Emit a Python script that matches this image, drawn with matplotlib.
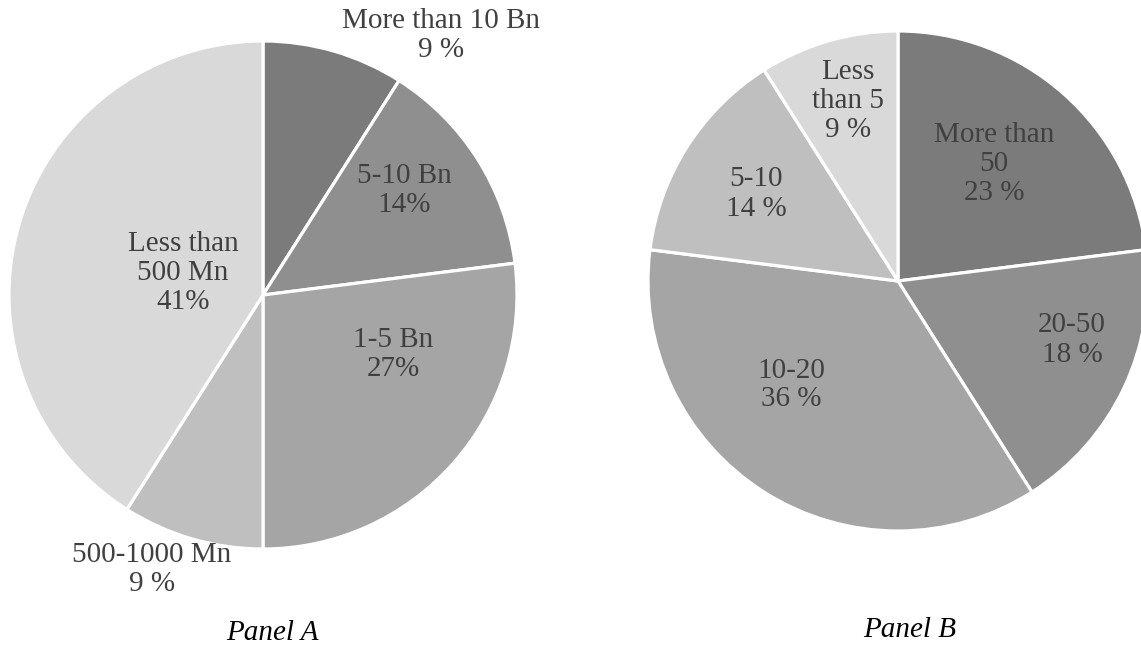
import numpy as np
import matplotlib.pyplot as plt

plt.rcParams['font.family'] = ['Liberation Serif', 'DejaVu Serif']

# Panel A: size classes, clockwise from the top
cats_a = ['More than 10 Bn', '5-10 Bn', '1-5 Bn', '500-1000 Mn', 'Less than\n500 Mn']
vals_a = [9, 14, 27, 9, 41]
sep_a = [' ', '', '', ' ', '']

# Panel B
cats_b = ['More than\n50', '20-50', '10-20', '5-10', 'Less\nthan 5']
vals_b = [23, 18, 36, 14, 9]
sep_b = [' ', ' ', ' ', ' ', ' ']

greys = ['#7b7b7b', '#8f8f8f', '#a5a5a5', '#bfbfbf', '#d9d9d9']
txt_col = '#404040'

# label spots in pie-radius units
pos_a = [(0.70, 1.02), (0.555, 0.413), (0.512, -0.236), (-0.437, -1.079), (-0.315, 0.087)]
pos_b = [(0.384, 0.468), (0.696, -0.236), (-0.428, -0.416), (-0.568, 0.348), (-0.2, 0.72)]

W, H = 1141, 649
fig = plt.figure(figsize=(W / 100, H / 100), dpi=100)


def draw(cx, cy, r, cats, vals, seps, pos):
    ax = fig.add_axes([(cx - r) / W, (H - cy - r) / H, 2 * r / W, 2 * r / H])
    ax.pie(vals, colors=greys, startangle=90, counterclock=False, radius=1,
           wedgeprops=dict(edgecolor='white', linewidth=2.3))
    for c, v, s, (x, y) in zip(cats, vals, seps, pos):
        ax.text(x, y, f'{c}\n{v}{s}%', ha='center', va='center', fontsize=21,
                color=txt_col, linespacing=1.15, clip_on=False)
    ax.set_xlim(-1, 1)
    ax.set_ylim(-1, 1)
    ax.set_aspect('equal')
    ax.axis('off')
    return ax


draw(263, 295, 254, cats_a, vals_a, sep_a, pos_a)
draw(898, 281, 250, cats_b, vals_b, sep_b, pos_b)

fig.text(272 / W, 1 - 633 / H, 'Panel A', style='italic', fontsize=21,
         ha='center', va='center', color='black')
fig.text(910 / W, 1 - 630 / H, 'Panel B', style='italic', fontsize=21,
         ha='center', va='center', color='black')

fig.savefig('out.png', dpi=100, facecolor='white')
